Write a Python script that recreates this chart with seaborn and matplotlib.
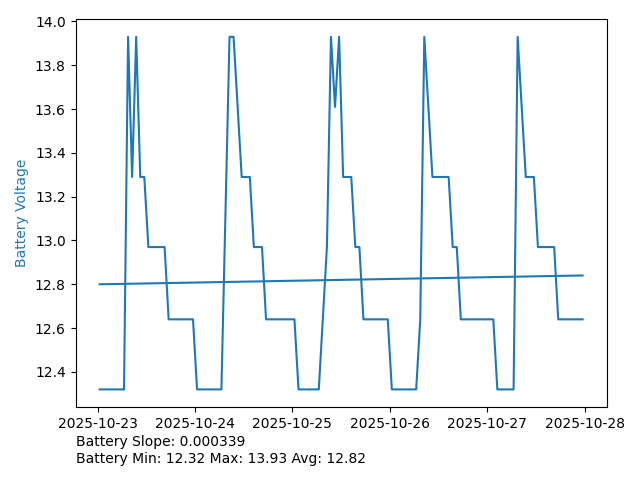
import matplotlib

matplotlib.use("Agg")

import matplotlib.pyplot as plt
import numpy as np
import pandas as pd
import seaborn as sns

# Battery readings: hours after the first sample and the voltage at that time
hours = [
    0, 1, 2, 3, 4, 5, 6, 7, 8, 9, 10, 11, 12, 13, 14, 15, 16, 17, 18, 19,
    20, 21, 22, 23, 24, 25, 26, 27, 28, 29, 30, 32, 33, 35, 36, 37, 38, 39, 40, 41,
    42, 43, 44, 45, 46, 47, 48, 49, 50, 51, 52, 53, 54, 56, 57, 58, 59, 60, 61, 62,
    63, 64, 65, 66, 67, 68, 69, 70, 71, 72, 73, 74, 75, 76, 77, 78, 79, 80, 82, 83,
    84, 85, 86, 87, 88, 89, 90, 91, 92, 93, 94, 95, 96, 97, 98, 99, 100, 101, 102, 103,
    105, 106, 107, 108, 109, 110, 111, 112, 113, 114, 115, 116, 117, 118, 119,
]
voltage = [
    12.32, 12.32, 12.32, 12.32, 12.32, 12.32, 12.32, 13.93, 13.29, 13.93,
    13.29, 13.29, 12.97, 12.97, 12.97, 12.97, 12.97, 12.64, 12.64, 12.64,
    12.64, 12.64, 12.64, 12.64, 12.32, 12.32, 12.32, 12.32, 12.32, 12.32,
    12.32, 13.93, 13.93, 13.29, 13.29, 13.29, 12.97, 12.97, 12.97, 12.64,
    12.64, 12.64, 12.64, 12.64, 12.64, 12.64, 12.64, 12.32, 12.32, 12.32,
    12.32, 12.32, 12.32, 12.97, 13.93, 13.61, 13.93, 13.29, 13.29, 13.29,
    12.97, 12.97, 12.64, 12.64, 12.64, 12.64, 12.64, 12.64, 12.64, 12.32,
    12.32, 12.32, 12.32, 12.32, 12.32, 12.32, 12.64, 13.93, 13.29, 13.29,
    13.29, 13.29, 13.29, 12.97, 12.97, 12.64, 12.64, 12.64, 12.64, 12.64,
    12.64, 12.64, 12.64, 12.64, 12.32, 12.32, 12.32, 12.32, 12.32, 13.93,
    13.29, 13.29, 13.29, 12.97, 12.97, 12.97, 12.97, 12.97, 12.64, 12.64,
    12.64, 12.64, 12.64, 12.64, 12.64,
]

# Linear trend (volts per hour) and the summary printed under the chart
battery_slope = 0.000339
battery_intercept = 12.80
stats_text = "Battery Slope: 0.000339\nBattery Min: 12.32 Max: 13.93 Avg: 12.82"

START = pd.Timestamp("2025-10-23 00:30")
LINE_COLOR = "tab:blue"

df = pd.DataFrame({"Hours": hours, "Voltage": voltage})
df["Time"] = START + pd.to_timedelta(df["Hours"], unit="h")
df["Trend"] = battery_intercept + battery_slope * df["Hours"]

fig, ax = plt.subplots(figsize=(6.4, 4.8), dpi=100)

sns.lineplot(data=df, x="Time", y="Voltage", color=LINE_COLOR, ax=ax)
sns.lineplot(data=df, x="Time", y="Trend", color=LINE_COLOR, ax=ax)

ax.set_xlabel("")
ax.set_ylabel("Battery Voltage", color=LINE_COLOR)

fig.text(0.118, 0.03, stats_text, ha="left", va="bottom", fontsize=10)

fig.subplots_adjust(left=0.118, right=0.948, top=0.96, bottom=0.152)
fig.savefig("out.png", dpi=100)
plt.close(fig)
